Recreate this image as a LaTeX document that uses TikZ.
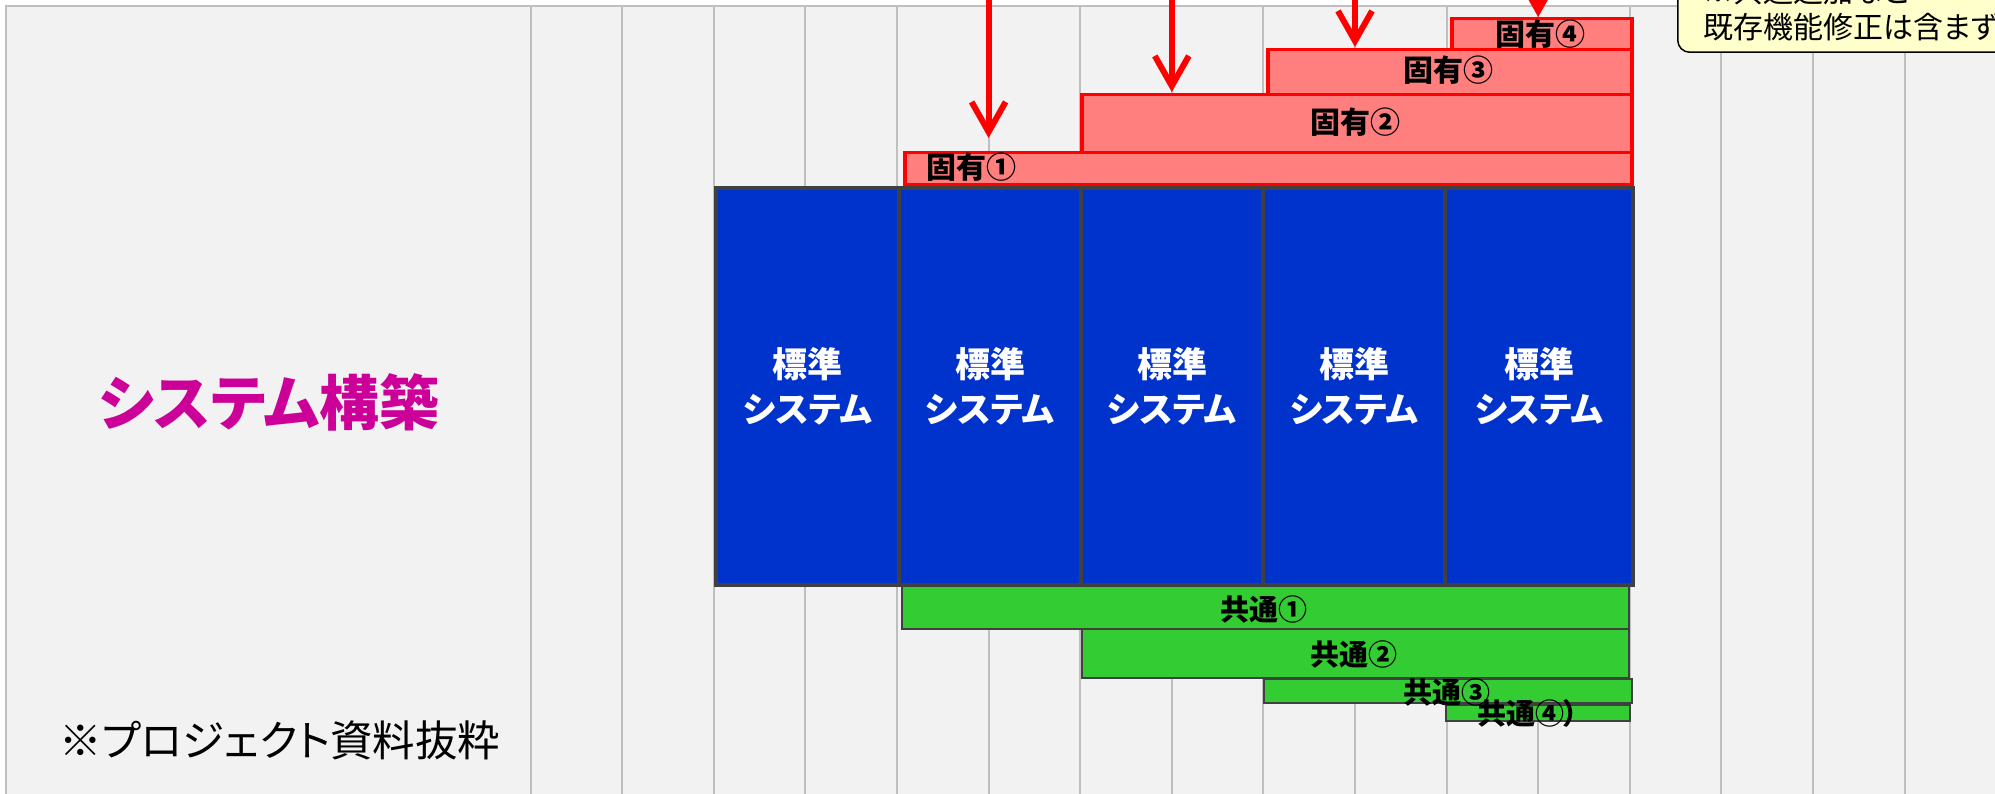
\documentclass[tikz,border=0pt]{standalone}
\usepackage{fontspec}
\newfontfamily\jp[RawFeature=+palt]{Noto Sans CJK JP}
\usetikzlibrary{arrows.meta}
\definecolor{bgc}{HTML}{F2F2F2}
\definecolor{gridc}{HTML}{BFBFBF}
\definecolor{stdblue}{HTML}{0033CC}
\definecolor{edgegray}{HTML}{404040}
\definecolor{redfill}{HTML}{FF7F7F}
\definecolor{grn}{HTML}{33CC33}
\definecolor{mag}{HTML}{CC0099}
\definecolor{notefill}{HTML}{FFFFCC}
\tikzset{
  gridline/.style={draw=gridc, line width=2pt},
  stdbox/.style={draw=edgegray, fill=stdblue, line width=4pt, inner sep=0pt, anchor=north west,
    minimum height=397, text=white, align=center, font=\jp\bfseries\fontsize{35}{45}\selectfont},
  redbox/.style={draw=red, fill=redfill, line width=3.5pt, inner sep=0pt, anchor=north west},
  redtext/.style={font=\jp\bfseries\fontsize{30}{36}\selectfont, text=black, inner sep=0pt},
  grnbox/.style={draw=edgegray, fill=grn, line width=1.5pt, inner sep=0pt, anchor=north west},
  grntext/.style={font=\jp\bfseries\fontsize{29}{34}\selectfont, text=black, inner sep=0pt},
  redarrow/.style={draw=red, line width=6pt, -{Straight Barb[length=30pt,width=34pt]}},
  notebox/.style={draw=black, fill=notefill, line width=1.5pt, rounded corners=12pt, inner sep=0pt, anchor=south west},
  notetext/.style={font=\jp\fontsize{30}{36}\selectfont, text=black, inner sep=0pt, anchor=base west},
}
\begin{document}
\begin{tikzpicture}[x=1pt,y=-1pt]
\useasboundingbox (0,0) rectangle (1995,794);
\fill[white] (0,0) rectangle (1995,794);
\fill[bgc] (6,6) rectangle (1995,794);
\draw[gridline] (6,794) -- (6,6) -- (1995,6);
\foreach \k in {0,...,15} \draw[gridline] ({530.6+91.6*\k},6) -- ({530.6+91.6*\k},794);

% title and source
\node[font=\jp\bfseries\fontsize{60}{68}\selectfont, text=mag, inner sep=0pt] (title) at (269,402) {システム構築};
\node[font=\jp\fontsize{42.5}{50}\selectfont, text=black, inner sep=0pt] (src) at (280,740) {※プロジェクト資料抜粋};

% red boxes
\node[redbox, minimum width=727, minimum height=32] (k1) at (903,151) {};
\node[redbox, minimum width=550, minimum height=58] (k2) at (1080,93) {};
\node[redbox, minimum width=364, minimum height=45] (k3) at (1266,48) {};
\node[redbox, minimum width=180, minimum height=31] (k4) at (1450,17) {};
\node[redtext] (k1t) at (971,167) {固有①};
\node[redtext] (k2t) at (1355,122) {固有②};
\node[redtext] (k3t) at (1448,70) {固有③};
\node[redtext] (k4t) at (1540,34) {固有④};

% green bars
\node[grnbox, minimum width=727, minimum height=43] (c1) at (901,585) {};
\node[grnbox, minimum width=547, minimum height=49] (c2) at (1081,628) {};
\node[grnbox, minimum width=368, minimum height=24] (c3) at (1263,678) {};
\node[grnbox, minimum width=184, minimum height=16] (c4) at (1445,704) {};
\node[grntext] (c1t) at (1264,609) {共通①};
\node[grntext] (c2t) at (1354,654) {共通②};
\node[grntext] (c3t) at (1447,692) {共通③};
\node[grntext] (c4t) at (1528,713) {共通④）};

% standard systems
\node[stdbox, minimum width=183] (s1) at (714,186) {標準\\システム};
\node[stdbox, minimum width=182] (s2) at (897,186) {標準\\システム};
\node[stdbox, minimum width=182] (s3) at (1079,186) {標準\\システム};
\node[stdbox, minimum width=182] (s4) at (1261,186) {標準\\システム};
\node[stdbox, minimum width=188] (s5) at (1443,186) {標準\\システム};

% arrows
\coordinate (a1s) at (988.6,-4); \coordinate (a1e) at (988.6,138);
\coordinate (a2s) at (1171.8,-4); \coordinate (a2e) at (1171.8,92);
\coordinate (a3s) at (1355,-4); \coordinate (a3e) at (1355,47);
\coordinate (a4s) at (1538.2,-40); \coordinate (a4e) at (1538.2,17);
\draw[redarrow] (a1s) -- (a1e);
\draw[redarrow] (a2s) -- (a2e);
\draw[redarrow] (a3s) -- (a3e);
\draw[redarrow] (a4s) -- (a4e);

% note
\node[notebox, minimum width=420, minimum height=130] (note) at (1677,53) {};
\node[notetext] (n1) at (1703,3) {※共通追加など};
\node[notetext] (n2) at (1703,39) {既存機能修正は含まず};
\end{tikzpicture}
\end{document}
